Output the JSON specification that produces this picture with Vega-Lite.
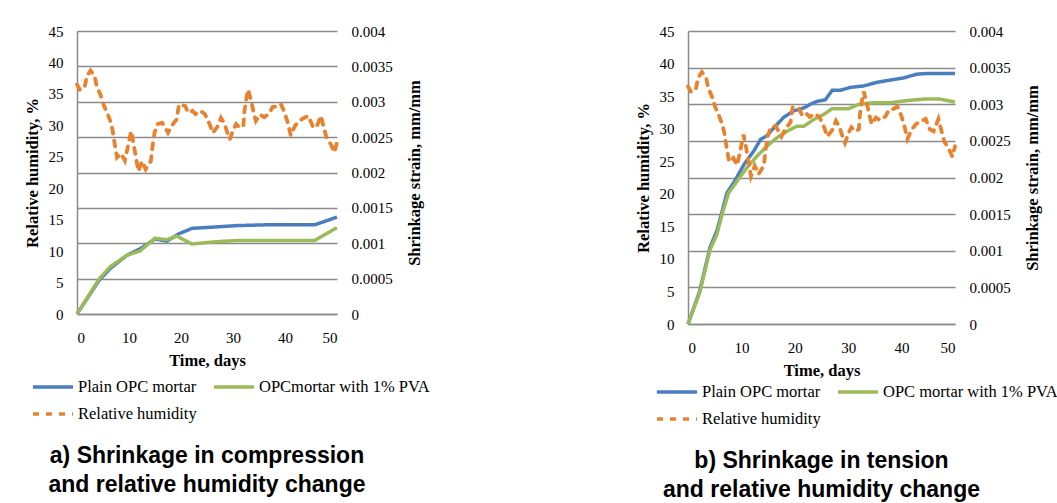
{
  "$schema": "https://vega.github.io/schema/vega-lite/v6.json",
  "padding": {"left": 24, "top": 24, "right": 5, "bottom": 0},
  "background": "white",
  "datasets": {
    "rh": [
      {"day": 0, "rh": 36.5, "s": "Relative humidity"},
      {"day": 0.6, "rh": 35.6, "s": "Relative humidity"},
      {"day": 1.5, "rh": 36.2, "s": "Relative humidity"},
      {"day": 1.9, "rh": 37.8, "s": "Relative humidity"},
      {"day": 2.6, "rh": 38.7, "s": "Relative humidity"},
      {"day": 3.4, "rh": 37.8, "s": "Relative humidity"},
      {"day": 3.8, "rh": 36.2, "s": "Relative humidity"},
      {"day": 4.5, "rh": 34.9, "s": "Relative humidity"},
      {"day": 5.1, "rh": 33.3, "s": "Relative humidity"},
      {"day": 5.8, "rh": 32.0, "s": "Relative humidity"},
      {"day": 6.4, "rh": 30.7, "s": "Relative humidity"},
      {"day": 6.8, "rh": 29.4, "s": "Relative humidity"},
      {"day": 7.2, "rh": 27.3, "s": "Relative humidity"},
      {"day": 7.7, "rh": 24.9, "s": "Relative humidity"},
      {"day": 8.5, "rh": 25.5, "s": "Relative humidity"},
      {"day": 9.2, "rh": 24.4, "s": "Relative humidity"},
      {"day": 9.6, "rh": 25.9, "s": "Relative humidity"},
      {"day": 10.4, "rh": 29.1, "s": "Relative humidity"},
      {"day": 10.9, "rh": 27.0, "s": "Relative humidity"},
      {"day": 11.3, "rh": 25.1, "s": "Relative humidity"},
      {"day": 11.8, "rh": 22.7, "s": "Relative humidity"},
      {"day": 12.5, "rh": 24.3, "s": "Relative humidity"},
      {"day": 13.2, "rh": 23.0, "s": "Relative humidity"},
      {"day": 14.2, "rh": 24.3, "s": "Relative humidity"},
      {"day": 14.5, "rh": 26.5, "s": "Relative humidity"},
      {"day": 14.9, "rh": 28.8, "s": "Relative humidity"},
      {"day": 15.5, "rh": 30.2, "s": "Relative humidity"},
      {"day": 16.4, "rh": 30.4, "s": "Relative humidity"},
      {"day": 17.5, "rh": 28.8, "s": "Relative humidity"},
      {"day": 18.2, "rh": 29.9, "s": "Relative humidity"},
      {"day": 19.2, "rh": 31.0, "s": "Relative humidity"},
      {"day": 19.6, "rh": 33.3, "s": "Relative humidity"},
      {"day": 20.8, "rh": 33.1, "s": "Relative humidity"},
      {"day": 21.4, "rh": 32.0, "s": "Relative humidity"},
      {"day": 22.2, "rh": 32.3, "s": "Relative humidity"},
      {"day": 22.8, "rh": 31.8, "s": "Relative humidity"},
      {"day": 23.7, "rh": 32.3, "s": "Relative humidity"},
      {"day": 24.6, "rh": 31.8, "s": "Relative humidity"},
      {"day": 25.5, "rh": 30.2, "s": "Relative humidity"},
      {"day": 26.1, "rh": 28.8, "s": "Relative humidity"},
      {"day": 27.1, "rh": 29.9, "s": "Relative humidity"},
      {"day": 27.7, "rh": 31.2, "s": "Relative humidity"},
      {"day": 28.4, "rh": 30.2, "s": "Relative humidity"},
      {"day": 29.0, "rh": 28.6, "s": "Relative humidity"},
      {"day": 29.4, "rh": 27.8, "s": "Relative humidity"},
      {"day": 30.1, "rh": 29.4, "s": "Relative humidity"},
      {"day": 30.6, "rh": 30.2, "s": "Relative humidity"},
      {"day": 31.3, "rh": 29.6, "s": "Relative humidity"},
      {"day": 32.0, "rh": 29.9, "s": "Relative humidity"},
      {"day": 32.2, "rh": 32.3, "s": "Relative humidity"},
      {"day": 32.6, "rh": 34.4, "s": "Relative humidity"},
      {"day": 32.9, "rh": 35.7, "s": "Relative humidity"},
      {"day": 33.5, "rh": 33.9, "s": "Relative humidity"},
      {"day": 33.9, "rh": 32.3, "s": "Relative humidity"},
      {"day": 34.4, "rh": 30.7, "s": "Relative humidity"},
      {"day": 35.2, "rh": 31.7, "s": "Relative humidity"},
      {"day": 36.0, "rh": 31.3, "s": "Relative humidity"},
      {"day": 37.0, "rh": 31.9, "s": "Relative humidity"},
      {"day": 37.6, "rh": 32.9, "s": "Relative humidity"},
      {"day": 38.4, "rh": 33.0, "s": "Relative humidity"},
      {"day": 39.2, "rh": 33.4, "s": "Relative humidity"},
      {"day": 39.9, "rh": 32.1, "s": "Relative humidity"},
      {"day": 40.5, "rh": 30.5, "s": "Relative humidity"},
      {"day": 41.1, "rh": 28.4, "s": "Relative humidity"},
      {"day": 41.9, "rh": 29.9, "s": "Relative humidity"},
      {"day": 42.7, "rh": 30.7, "s": "Relative humidity"},
      {"day": 43.7, "rh": 31.2, "s": "Relative humidity"},
      {"day": 44.5, "rh": 31.5, "s": "Relative humidity"},
      {"day": 45.3, "rh": 29.9, "s": "Relative humidity"},
      {"day": 46.0, "rh": 29.6, "s": "Relative humidity"},
      {"day": 46.9, "rh": 31.5, "s": "Relative humidity"},
      {"day": 47.3, "rh": 30.2, "s": "Relative humidity"},
      {"day": 48.0, "rh": 28.0, "s": "Relative humidity"},
      {"day": 48.8, "rh": 27.0, "s": "Relative humidity"},
      {"day": 49.5, "rh": 25.7, "s": "Relative humidity"},
      {"day": 50.0, "rh": 27.3, "s": "Relative humidity"}
    ],
    "strainA": [
      {"day": 0, "strain": 0, "s": "Plain OPC mortar"},
      {"day": 4.2, "strain": 0.00047, "s": "Plain OPC mortar"},
      {"day": 6.4, "strain": 0.000645, "s": "Plain OPC mortar"},
      {"day": 9.6, "strain": 0.00083, "s": "Plain OPC mortar"},
      {"day": 12.1, "strain": 0.00092, "s": "Plain OPC mortar"},
      {"day": 15.0, "strain": 0.00106, "s": "Plain OPC mortar"},
      {"day": 17.3, "strain": 0.00103, "s": "Plain OPC mortar"},
      {"day": 19.5, "strain": 0.00113, "s": "Plain OPC mortar"},
      {"day": 22.1, "strain": 0.00121, "s": "Plain OPC mortar"},
      {"day": 26.5, "strain": 0.00123, "s": "Plain OPC mortar"},
      {"day": 31.0, "strain": 0.00125, "s": "Plain OPC mortar"},
      {"day": 36.1, "strain": 0.00126, "s": "Plain OPC mortar"},
      {"day": 45.7, "strain": 0.00126, "s": "Plain OPC mortar"},
      {"day": 50, "strain": 0.00137, "s": "Plain OPC mortar"},
      {"day": 0, "strain": 0, "s": "OPCmortar with 1% PVA"},
      {"day": 4.3, "strain": 0.0005, "s": "OPCmortar with 1% PVA"},
      {"day": 6.4, "strain": 0.00067, "s": "OPCmortar with 1% PVA"},
      {"day": 9.6, "strain": 0.00083, "s": "OPCmortar with 1% PVA"},
      {"day": 12.1, "strain": 0.00089, "s": "OPCmortar with 1% PVA"},
      {"day": 15.0, "strain": 0.00107, "s": "OPCmortar with 1% PVA"},
      {"day": 17.3, "strain": 0.00105, "s": "OPCmortar with 1% PVA"},
      {"day": 19.2, "strain": 0.0011, "s": "OPCmortar with 1% PVA"},
      {"day": 22.1, "strain": 0.00099, "s": "OPCmortar with 1% PVA"},
      {"day": 26.5, "strain": 0.00102, "s": "OPCmortar with 1% PVA"},
      {"day": 31.0, "strain": 0.00104, "s": "OPCmortar with 1% PVA"},
      {"day": 37.4, "strain": 0.00104, "s": "OPCmortar with 1% PVA"},
      {"day": 45.7, "strain": 0.00104, "s": "OPCmortar with 1% PVA"},
      {"day": 50, "strain": 0.00122, "s": "OPCmortar with 1% PVA"}
    ],
    "strainB": [
      {"day": 0, "strain": 0, "s": "Plain OPC mortar"},
      {"day": 2.2, "strain": 0.00045, "s": "Plain OPC mortar"},
      {"day": 4.1, "strain": 0.00104, "s": "Plain OPC mortar"},
      {"day": 5.4, "strain": 0.00127, "s": "Plain OPC mortar"},
      {"day": 6.4, "strain": 0.00154, "s": "Plain OPC mortar"},
      {"day": 7.3, "strain": 0.00179, "s": "Plain OPC mortar"},
      {"day": 8.9, "strain": 0.00197, "s": "Plain OPC mortar"},
      {"day": 10.5, "strain": 0.00218, "s": "Plain OPC mortar"},
      {"day": 12.3, "strain": 0.00236, "s": "Plain OPC mortar"},
      {"day": 13.6, "strain": 0.00252, "s": "Plain OPC mortar"},
      {"day": 14.8, "strain": 0.00257, "s": "Plain OPC mortar"},
      {"day": 16.1, "strain": 0.00268, "s": "Plain OPC mortar"},
      {"day": 17.9, "strain": 0.00282, "s": "Plain OPC mortar"},
      {"day": 19.8, "strain": 0.00291, "s": "Plain OPC mortar"},
      {"day": 21.7, "strain": 0.00295, "s": "Plain OPC mortar"},
      {"day": 22.9, "strain": 0.003, "s": "Plain OPC mortar"},
      {"day": 24.2, "strain": 0.00304, "s": "Plain OPC mortar"},
      {"day": 25.7, "strain": 0.00306, "s": "Plain OPC mortar"},
      {"day": 27.0, "strain": 0.00319, "s": "Plain OPC mortar"},
      {"day": 28.5, "strain": 0.00319, "s": "Plain OPC mortar"},
      {"day": 30.4, "strain": 0.00323, "s": "Plain OPC mortar"},
      {"day": 32.9, "strain": 0.00325, "s": "Plain OPC mortar"},
      {"day": 35.4, "strain": 0.0033, "s": "Plain OPC mortar"},
      {"day": 37.9, "strain": 0.00333, "s": "Plain OPC mortar"},
      {"day": 40.4, "strain": 0.00336, "s": "Plain OPC mortar"},
      {"day": 42.8, "strain": 0.00341, "s": "Plain OPC mortar"},
      {"day": 44.7, "strain": 0.00342, "s": "Plain OPC mortar"},
      {"day": 50, "strain": 0.00342, "s": "Plain OPC mortar"},
      {"day": 0, "strain": 0, "s": "OPC mortar with 1% PVA"},
      {"day": 2.2, "strain": 0.00043, "s": "OPC mortar with 1% PVA"},
      {"day": 4.1, "strain": 0.00101, "s": "OPC mortar with 1% PVA"},
      {"day": 5.4, "strain": 0.00122, "s": "OPC mortar with 1% PVA"},
      {"day": 6.4, "strain": 0.0015, "s": "OPC mortar with 1% PVA"},
      {"day": 7.6, "strain": 0.00179, "s": "OPC mortar with 1% PVA"},
      {"day": 9.2, "strain": 0.00195, "s": "OPC mortar with 1% PVA"},
      {"day": 11.0, "strain": 0.00213, "s": "OPC mortar with 1% PVA"},
      {"day": 12.9, "strain": 0.00229, "s": "OPC mortar with 1% PVA"},
      {"day": 14.8, "strain": 0.00243, "s": "OPC mortar with 1% PVA"},
      {"day": 16.6, "strain": 0.00254, "s": "OPC mortar with 1% PVA"},
      {"day": 18.5, "strain": 0.00263, "s": "OPC mortar with 1% PVA"},
      {"day": 20.4, "strain": 0.0027, "s": "OPC mortar with 1% PVA"},
      {"day": 21.7, "strain": 0.0027, "s": "OPC mortar with 1% PVA"},
      {"day": 23.5, "strain": 0.00279, "s": "OPC mortar with 1% PVA"},
      {"day": 25.4, "strain": 0.00286, "s": "OPC mortar with 1% PVA"},
      {"day": 27.0, "strain": 0.00294, "s": "OPC mortar with 1% PVA"},
      {"day": 30.1, "strain": 0.00294, "s": "OPC mortar with 1% PVA"},
      {"day": 32.0, "strain": 0.003, "s": "OPC mortar with 1% PVA"},
      {"day": 34.8, "strain": 0.00302, "s": "OPC mortar with 1% PVA"},
      {"day": 37.9, "strain": 0.00302, "s": "OPC mortar with 1% PVA"},
      {"day": 41.0, "strain": 0.00305, "s": "OPC mortar with 1% PVA"},
      {"day": 44.1, "strain": 0.00307, "s": "OPC mortar with 1% PVA"},
      {"day": 47.2, "strain": 0.00307, "s": "OPC mortar with 1% PVA"},
      {"day": 50, "strain": 0.00303, "s": "OPC mortar with 1% PVA"}
    ]
  },
  "config": {
    "view": {"stroke": null},
    "font": "Liberation Serif",
    "axis": {
      "labelFont": "Liberation Serif", "labelFontSize": 15, "labelColor": "#000",
      "titleFont": "Liberation Serif", "titleFontSize": 16.5, "titleFontWeight": "bold", "titleColor": "#000",
      "ticks": false, "domainColor": "#8a8a8a", "domainWidth": 1.5,
      "gridColor": "#8a8a8a", "gridWidth": 1.5, "labelPadding": 14
    },
    "title": {"font": "Liberation Sans", "fontSize": 23, "fontWeight": "bold", "color": "#000", "anchor": "middle", "orient": "bottom", "lineHeight": 29, "offset": 22},
    "legend": {
      "orient": "none", "direction": "horizontal", "columns": 2, "gridAlign": "none",
      "symbolType": "stroke", "symbolSize": 1600, "symbolStrokeWidth": 3.5,
      "labelFont": "Liberation Serif", "labelFontSize": 16.5, "labelColor": "#000",
      "labelOffset": 3, "columnPadding": 10, "rowPadding": -4, "labelLimit": 400
    }
  },
  "hconcat": [
    {
      "width": 260, "height": 283,
      "title": {"text": ["a) Shrinkage in compression", "and relative humidity change"]},
      "layer": [
        {
          "data": {"name": "strainA"},
          "mark": {"type": "line", "strokeWidth": 3.5},
          "encoding": {
            "x": {"field": "day", "type": "quantitative", "scale": {"domain": [0, 50]},
                  "axis": {"title": "Time, days", "values": [0, 10, 20, 30, 40, 50], "grid": false, "domain": true, "labelPadding": 16, "titlePadding": 7}},
            "y": {"field": "strain", "type": "quantitative", "scale": {"domain": [0, 0.004]},
                  "axis": {"orient": "right", "title": "Shrinkage strain, mm/mm", "titleAngle": 270, "titleBaseline": "top",
                           "values": [0, 0.0005, 0.001, 0.0015, 0.002, 0.0025, 0.003, 0.0035, 0.004],
                           "format": "~g", "grid": true, "domain": false, "titlePadding": 14}},
            "color": {"field": "s", "type": "nominal",
                      "scale": {"domain": ["Plain OPC mortar", "OPCmortar with 1% PVA", "Relative humidity"], "range": ["#4A7EBF", "#9BBB59", "#E8822F"]},
                      "legend": {"title": null, "legendX": -46, "legendY": 334}},
            "strokeDash": {"field": "s", "type": "nominal",
                      "scale": {"domain": ["Plain OPC mortar", "OPCmortar with 1% PVA", "Relative humidity"], "range": [[1, 0], [1, 0], [6, 7]]},
                      "legend": {"title": null, "legendX": -46, "legendY": 334}}
          }
        },
        {
          "data": {"name": "rh"},
          "mark": {"type": "line", "strokeWidth": 3.8, "strokeCap": "round"},
          "encoding": {
            "x": {"field": "day", "type": "quantitative"},
            "y": {"field": "rh", "type": "quantitative", "scale": {"domain": [0, 45]},
                  "axis": {"orient": "left", "title": "Relative humidity,  %", "values": [0, 5, 10, 15, 20, 25, 30, 35, 40, 45], "grid": false, "domain": true, "titlePadding": 8}},
            "color": {"field": "s", "type": "nominal"},
            "strokeDash": {"field": "s", "type": "nominal"}
          }
        }
      ],
      "resolve": {"scale": {"y": "independent"}}
    },
    {
      "width": 267, "height": 293,
      "title": {"text": ["b) Shrinkage in tension", "and relative humidity change"]},
      "layer": [
        {
          "data": {"name": "strainB"},
          "mark": {"type": "line", "strokeWidth": 3.5},
          "encoding": {
            "x": {"field": "day", "type": "quantitative", "scale": {"domain": [0, 50]},
                  "axis": {"title": "Time, days", "values": [0, 10, 20, 30, 40, 50], "grid": false, "domain": true, "labelPadding": 16, "titlePadding": 7}},
            "y": {"field": "strain", "type": "quantitative", "scale": {"domain": [0, 0.004]},
                  "axis": {"orient": "right", "title": "Shrinkage strain, mm/mm", "titleAngle": 270, "titleBaseline": "top",
                           "values": [0, 0.0005, 0.001, 0.0015, 0.002, 0.0025, 0.003, 0.0035, 0.004],
                           "format": "~g", "grid": true, "domain": false, "titlePadding": 14}},
            "color": {"field": "s", "type": "nominal",
                      "scale": {"domain": ["Plain OPC mortar", "OPC mortar with 1% PVA", "Relative humidity"], "range": ["#4A7EBF", "#9BBB59", "#E8822F"]},
                      "legend": {"title": null, "legendX": -33, "legendY": 339}},
            "strokeDash": {"field": "s", "type": "nominal",
                      "scale": {"domain": ["Plain OPC mortar", "OPC mortar with 1% PVA", "Relative humidity"], "range": [[1, 0], [1, 0], [6, 7]]},
                      "legend": {"title": null, "legendX": -33, "legendY": 339}}
          }
        },
        {
          "data": {"name": "rh"},
          "mark": {"type": "line", "strokeWidth": 3.8, "strokeCap": "round"},
          "encoding": {
            "x": {"field": "day", "type": "quantitative"},
            "y": {"field": "rh", "type": "quantitative", "scale": {"domain": [0, 45]},
                  "axis": {"orient": "left", "title": "Relative humidity,  %", "values": [0, 5, 10, 15, 20, 25, 30, 35, 40, 45], "grid": false, "domain": true, "titlePadding": 8}},
            "color": {"field": "s", "type": "nominal"},
            "strokeDash": {"field": "s", "type": "nominal"}
          }
        }
      ],
      "resolve": {"scale": {"y": "independent"}}
    }
  ],
  "spacing": 205,
  "resolve": {"scale": {"color": "independent", "strokeDash": "independent"}, "legend": {"color": "independent", "strokeDash": "independent"}}
}
